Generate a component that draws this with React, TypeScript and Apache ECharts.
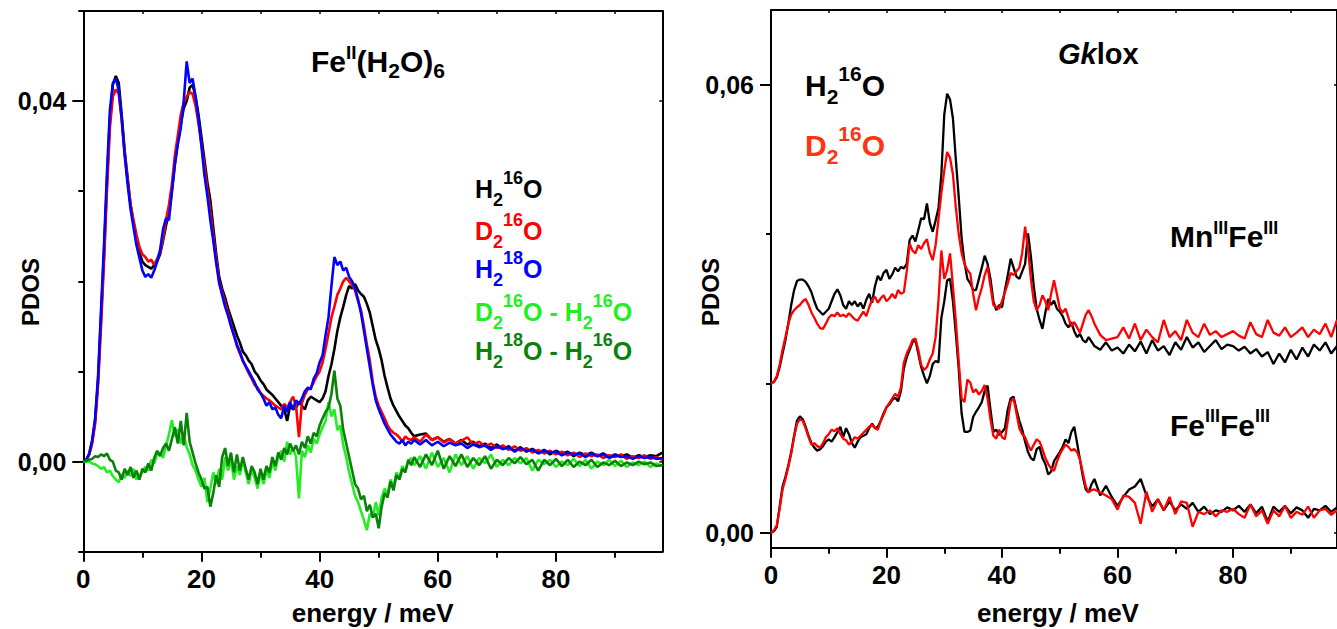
import React, { useEffect, useRef } from 'react';
import * as echarts from 'echarts';

// energy grid (meV), shared by every curve
const energy = [
  0, 0.5, 1, 1.5, 2, 2.5, 3, 3.5, 4, 4.5,
  5, 5.5, 6, 6.5, 7, 7.5, 8, 8.5, 9, 9.5,
  10, 10.5, 11, 11.5, 12, 12.5, 13, 13.5, 14, 14.5,
  15, 15.5, 16, 16.5, 17, 17.5, 18, 18.5, 19, 19.5,
  20, 20.5, 21, 21.5, 22, 22.5, 23, 23.5, 24, 24.5,
  25, 25.5, 26, 26.5, 27, 27.5, 28, 28.5, 29, 29.5,
  30, 30.5, 31, 31.5, 32, 32.5, 33, 33.5, 34, 34.5,
  35, 35.5, 36, 36.5, 37, 37.5, 38, 38.5, 39, 39.5,
  40, 40.5, 41, 41.5, 42, 42.5, 43, 43.5, 44, 44.5,
  45, 45.5, 46, 46.5, 47, 47.5, 48, 48.5, 49, 49.5,
  50, 50.5, 51, 51.5, 52, 52.5, 53, 53.5, 54, 54.5,
  55, 55.5, 56,
  57, 58, 59, 60, 61, 62, 63, 64, 65, 66,
  67, 68, 69, 70, 71, 72, 73, 74, 75, 76,
  77, 78, 79, 80, 81, 82, 83, 84, 85, 86,
  87, 88, 89, 90, 91, 92, 93, 94, 95, 96,
  97, 98,
];

// ---- Left panel: Fe(II)(H2O)6 ----
const feH2o16 = [
  0, .0002, .0008, .0022, .0045, .0090, .0160, .0230, .0310, .0380,
  .0418, .0428, .0420, .0385, .0345, .0315, .0285, .0265, .0248, .0232,
  .0222, .0218, .0216, .0214, .0218, .0222, .0230, .0245, .0262, .0275,
  .0300, .0330, .0355, .0375, .0392, .0400, .0415, .0418, .0405, .0385,
  .0360, .0335, .0310, .0290, .0260, .0230, .0205, .0192, .0182, .0170,
  .0160, .0150, .0140, .0132, .0122, .0118, .0112, .0108, .0100, .0096,
  .0090, .0086, .0080, .0077, .0074, .0070, .0066, .0062, .0058, .0045,
  .0062, .0058, .0060, .0066, .0062, .0058, .0068, .0072, .0070, .0068,
  .0066, .0070, .0078, .0095, .0108, .0125, .0145, .0160, .0172, .0185,
  .0195, .0192, .0197, .0190, .0186, .0183, .0175, .0165, .0150, .0135,
  .0125, .0112, .0095, .0082, .0070, .0062, .0056, .0050, .0045, .0040,
  .0037, .0032, .0028,
  .0030, .0031, .0024, .0027, .0022, .0025, .0020, .0024, .0019, .0022,
  .0017, .0020, .0015, .0019, .0014, .0017, .0012, .0016, .0011, .0014,
  .0010, .0013, .0008, .0012, .0009, .0011, .0006, .0010, .0007, .0010,
  .0006, .0009, .0005, .0008, .0006, .0008, .0004, .0007, .0005, .0007,
  .0006, .0010,
];
const feD2o16 = [
  0, .0002, .0008, .0020, .0042, .0085, .0150, .0220, .0300, .0370,
  .0405, .0413, .0408, .0380, .0342, .0312, .0285, .0268, .0252, .0238,
  .0230, .0227, .0222, .0224, .0218, .0225, .0232, .0248, .0268, .0285,
  .0308, .0340, .0362, .0385, .0398, .0405, .0410, .0408, .0395, .0375,
  .0352, .0328, .0302, .0278, .0250, .0225, .0200, .0188, .0176, .0165,
  .0152, .0140, .0128, .0120, .0112, .0105, .0098, .0092, .0085, .0082,
  .0076, .0073, .0070, .0068, .0065, .0062, .0060, .0058, .0064, .0060,
  .0066, .0072, .0062, .0027, .0065, .0074, .0080, .0082, .0088, .0095,
  .0100, .0110, .0125, .0142, .0160, .0172, .0185, .0192, .0200, .0204,
  .0200, .0196, .0190, .0178, .0168, .0150, .0130, .0112, .0088, .0072,
  .0062, .0055, .0048, .0040, .0035, .0032, .0030, .0027, .0022, .0028,
  .0025, .0024, .0027,
  .0022, .0030, .0024, .0027, .0021, .0025, .0020, .0023, .0027, .0019,
  .0022, .0017, .0020, .0015, .0018, .0013, .0017, .0012, .0015, .0010,
  .0013, .0009, .0012, .0008, .0011, .0007, .0010, .0005, .0009, .0006,
  .0008, .0004, .0007, .0005, .0008, .0003, .0006, .0004, .0007, .0003,
  .0005, .0002,
];
const feH2o18 = [
  0, .0002, .0009, .0024, .0048, .0095, .0168, .0240, .0320, .0390,
  .0420, .0425, .0412, .0380, .0340, .0308, .0280, .0260, .0240, .0226,
  .0212, .0205, .0208, .0204, .0212, .0222, .0235, .0258, .0270, .0268,
  .0300, .0330, .0352, .0370, .0400, .0444, .0420, .0425, .0405, .0380,
  .0350, .0318, .0295, .0268, .0245, .0220, .0198, .0185, .0172, .0162,
  .0150, .0140, .0130, .0122, .0112, .0106, .0100, .0094, .0088, .0080,
  .0076, .0070, .0062, .0066, .0058, .0060, .0052, .0048, .0062, .0055,
  .0066, .0058, .0068, .0064, .0070, .0078, .0082, .0080, .0092, .0098,
  .0110, .0118, .0140, .0160, .0195, .0227, .0218, .0222, .0212, .0215,
  .0205, .0200, .0192, .0180, .0165, .0145, .0125, .0105, .0085, .0068,
  .0058, .0050, .0042, .0036, .0030, .0026, .0022, .0020, .0024, .0018,
  .0022, .0020, .0024,
  .0019, .0024, .0018, .0022, .0017, .0021, .0018, .0020, .0015, .0019,
  .0016, .0018, .0013, .0017, .0014, .0016, .0011, .0015, .0012, .0013,
  .0009, .0012, .0010, .0011, .0007, .0010, .0008, .0009, .0005, .0009,
  .0006, .0008, .0004, .0007, .0005, .0006, .0003, .0006, .0004, .0005,
  .0003, .0004,
];
const diffD2o = [
  0, 0, 0, -.0002, -.0003, -.0005, -.0008, -.0006, -.0012, -.0010,
  -.0016, -.0020, -.0023, -.0014, -.0018, -.0010, -.0016, -.0008, -.0020, -.0015,
  -.0012, -.0006, -.0010, .0002, -.0002, .0008, .0010, .0004, .0018, .0030,
  .0046, .0028, .0036, .0020, .0030, .0016, .0008, -.0004, -.0010, -.0020,
  -.0028, -.0018, -.0045, -.0030, -.0012, -.0025, -.0008, -.0020, .0005, -.0010,
  .0002, -.0020, -.0005, -.0015, .0002, -.0012, -.0025, -.0008, -.0018, -.0030,
  -.0012, -.0025, -.0010, -.0018, .0000, -.0010, .0005, .0012, .0000, .0022,
  .0008, .0015, .0005, -.0041, .0012, .0005, .0018, .0010, .0025, .0020,
  .0030, .0038, .0045, .0066, .0050, .0058, .0035, .0040, .0018, .0005,
  -.0012, -.0025, -.0038, -.0045, -.0055, -.0065, -.0076, -.0058, -.0062, -.0045,
  -.0060, -.0040, -.0030, -.0036, -.0020, -.0028, -.0012, -.0018, -.0005, -.0010,
  .0000, .0004, -.0004,
  .0006, -.0008, .0010, -.0006, .0004, -.0012, .0008, -.0004, .0006, -.0008,
  .0004, -.0002, .0008, -.0006, .0002, -.0004, .0004, -.0002, .0004, -.0010,
  .0002, -.0003, .0002, -.0006, .0000, -.0004, .0003, -.0005, .0002, -.0008,
  .0000, -.0004, .0002, -.0005, .0001, -.0006, -.0001, -.0004, .0000, -.0006,
  -.0002, -.0005,
];
const diffH2o18 = [
  0, .0001, .0002, .0003, .0006, .0005, .0008, .0006, .0009, .0002,
  .0000, -.0010, -.0012, -.0020, -.0008, -.0015, -.0006, -.0018, -.0010, -.0020,
  -.0008, -.0012, -.0002, -.0010, .0004, .0012, .0006, .0015, .0020, .0012,
  .0025, .0038, .0020, .0045, .0018, .0054, .0022, .0010, -.0002, -.0012,
  -.0020, -.0030, -.0028, -.0050, -.0035, -.0015, -.0028, .0005, .0015, -.0005,
  .0010, -.0012, .0008, -.0010, .0005, -.0008, -.0020, -.0005, -.0012, -.0025,
  -.0008, -.0020, -.0005, -.0012, .0005, -.0005, .0010, .0002, .0015, .0008,
  .0020, .0012, .0018, .0008, .0022, .0015, .0028, .0020, .0032, .0028,
  .0040, .0048, .0055, .0060, .0075, .0101, .0070, .0062, .0035, .0020,
  .0005, -.0010, -.0025, -.0030, -.0042, -.0038, -.0055, -.0048, -.0062, -.0058,
  -.0074, -.0050, -.0035, -.0040, -.0022, -.0032, -.0015, -.0020, -.0008, -.0012,
  .0002, -.0004, .0005,
  -.0006, .0008, -.0004, .0012, -.0008, .0006, -.0005, .0008, -.0006, .0004,
  -.0004, .0006, -.0008, .0002, -.0004, .0004, -.0002, .0005, -.0003, .0002,
  -.0010, .0002, -.0004, .0003, -.0005, .0002, -.0006, .0000, -.0004, .0002,
  -.0006, -.0001, -.0004, .0001, -.0005, -.0001, -.0004, .0000, -.0003, -.0001,
  -.0005, -.0004,
];

// ---- Right panel: Gklox ----
const mnH2o16 = [
  .0200, .0202, .0208, .0222, .0240, .0258, .0280, .0305, .0325, .0337,
  .0339, .0339, .0336, .0330, .0322, .0310, .0300, .0296, .0292, .0296,
  .0300, .0310, .0320, .0326, .0318, .0305, .0300, .0310, .0305, .0310,
  .0303, .0308, .0300, .0312, .0320, .0308, .0330, .0344, .0338, .0348,
  .0352, .0340, .0346, .0355, .0350, .0356, .0354, .0360, .0392, .0398,
  .0390, .0405, .0421, .0420, .0441, .0415, .0403, .0418, .0435, .0480,
  .0560, .0588, .0580, .0555, .0500, .0450, .0395, .0362, .0340, .0334,
  .0325, .0325, .0340, .0355, .0371, .0360, .0340, .0310, .0298, .0305,
  .0302, .0325, .0345, .0367, .0355, .0343, .0340, .0350, .0360, .0401,
  .0370, .0330, .0300, .0285, .0273, .0295, .0313, .0305, .0311, .0300,
  .0296, .0290, .0280, .0275, .0282, .0270, .0262, .0266, .0258, .0255,
  .0262, .0256, .0250,
  .0245, .0255, .0244, .0248, .0240, .0252, .0243, .0256, .0240, .0258,
  .0244, .0250, .0238, .0255, .0245, .0262, .0248, .0255, .0242, .0250,
  .0258, .0246, .0252, .0250, .0244, .0249, .0240, .0246, .0236, .0242,
  .0226, .0240, .0228, .0245, .0232, .0248, .0236, .0252, .0244, .0255,
  .0240, .0250,
];
const mnD2o16 = [
  .0200, .0202, .0210, .0225, .0245, .0262, .0280, .0292, .0298, .0302,
  .0305, .0310, .0313, .0305, .0295, .0288, .0280, .0274, .0273, .0280,
  .0288, .0292, .0290, .0295, .0290, .0292, .0289, .0294, .0290, .0286,
  .0284, .0290, .0296, .0290, .0302, .0312, .0316, .0308, .0314, .0318,
  .0310, .0314, .0320, .0314, .0325, .0320, .0322, .0350, .0387, .0378,
  .0374, .0385, .0380, .0388, .0393, .0375, .0365, .0385, .0420, .0455,
  .0485, .0510, .0502, .0480, .0436, .0400, .0375, .0360, .0352, .0347,
  .0320, .0298, .0315, .0328, .0345, .0356, .0330, .0305, .0302, .0300,
  .0310, .0322, .0334, .0348, .0345, .0350, .0355, .0375, .0410, .0380,
  .0340, .0310, .0298, .0305, .0318, .0310, .0298, .0320, .0338, .0320,
  .0300, .0295, .0300, .0288, .0276, .0282, .0275, .0268, .0280, .0292,
  .0298, .0290, .0280,
  .0265, .0258, .0260, .0262, .0275, .0260, .0280, .0258, .0272, .0262,
  .0255, .0285, .0262, .0270, .0258, .0285, .0268, .0262, .0280, .0265,
  .0270, .0262, .0266, .0270, .0264, .0260, .0282, .0266, .0262, .0285,
  .0268, .0264, .0275, .0262, .0268, .0275, .0262, .0272, .0266, .0280,
  .0262, .0285,
];
const fefeH2o16 = [
  .0000, .0002, .0008, .0035, .0062, .0075, .0090, .0108, .0130, .0150,
  .0156, .0152, .0142, .0130, .0120, .0114, .0110, .0112, .0116, .0122,
  .0125, .0122, .0128, .0135, .0142, .0128, .0140, .0132, .0120, .0114,
  .0122, .0128, .0130, .0132, .0140, .0146, .0140, .0142, .0150, .0160,
  .0168, .0172, .0178, .0181, .0176, .0190, .0220, .0235, .0245, .0255,
  .0258, .0240, .0222, .0210, .0200, .0210, .0226, .0230, .0228, .0288,
  .0310, .0338, .0340, .0310, .0267, .0220, .0160, .0135, .0135, .0137,
  .0155, .0162, .0168, .0175, .0190, .0197, .0165, .0135, .0138, .0131,
  .0135, .0140, .0165, .0180, .0182, .0165, .0150, .0138, .0122, .0108,
  .0100, .0097, .0112, .0115, .0100, .0092, .0078, .0082, .0096, .0102,
  .0108, .0115, .0125, .0120, .0135, .0142, .0120, .0098, .0075, .0058,
  .0054, .0065, .0072,
  .0050, .0063, .0048, .0036, .0048, .0058, .0062, .0072, .0050, .0035,
  .0045, .0030, .0042, .0030, .0038, .0032, .0040, .0028, .0035, .0025,
  .0030, .0028, .0034, .0030, .0036, .0028, .0038, .0026, .0035, .0015,
  .0035, .0028, .0036, .0026, .0034, .0030, .0020, .0032, .0030, .0036,
  .0028, .0034,
];
const fefeD2o16 = [
  .0000, .0003, .0010, .0032, .0058, .0072, .0088, .0106, .0128, .0146,
  .0152, .0150, .0140, .0128, .0118, .0120, .0116, .0114, .0120, .0128,
  .0132, .0138, .0136, .0140, .0132, .0126, .0124, .0118, .0122, .0128,
  .0126, .0130, .0134, .0138, .0142, .0145, .0140, .0138, .0150, .0158,
  .0168, .0174, .0180, .0186, .0182, .0195, .0228, .0240, .0248, .0258,
  .0260, .0245, .0225, .0218, .0222, .0232, .0240, .0262, .0311, .0378,
  .0340, .0352, .0374, .0330, .0284, .0230, .0180, .0175, .0205, .0201,
  .0188, .0192, .0185, .0190, .0198, .0180, .0152, .0130, .0126, .0138,
  .0128, .0125, .0150, .0176, .0180, .0160, .0140, .0132, .0128, .0118,
  .0110, .0118, .0125, .0122, .0112, .0100, .0092, .0086, .0083, .0095,
  .0105, .0112, .0118, .0115, .0110, .0112, .0108, .0098, .0080, .0062,
  .0054, .0057, .0058,
  .0054, .0050, .0045, .0031, .0050, .0048, .0040, .0012, .0055, .0028,
  .0045, .0030, .0048, .0025, .0042, .0040, .0008, .0028, .0025, .0030,
  .0022, .0030, .0028, .0032, .0025, .0020, .0038, .0022, .0030, .0012,
  .0030, .0022, .0036, .0020, .0028, .0024, .0035, .0020, .0030, .0032,
  .0024, .0030,
];

// axis ticks / labels
const xMajor = [0, 20, 40, 60, 80];
const xMinor = [10, 30, 50, 70, 90];
const xTop = [10, 20, 30, 40, 50, 60, 70, 80, 90];
const leftYLabels = [0, 0.04];
const leftYMinor = [-0.01, 0.01, 0.02, 0.03, 0.05];
const rightYLabels = [0, 0.06];
const rightYMinor = [0.02, 0.04];

const FONT = '"Liberation Sans", Arial, Helvetica, sans-serif';
const BLACK = '#000000';

const pairs = (ys: number[]) => ys.map((y, i) => [energy[i], y]);
const fmtY = (v: number) => v.toFixed(2).replace('.', ',');

const axisLineStyle = { color: BLACK, width: 2 };

function xMain(grid: number) {
  return {
    type: 'value', gridIndex: grid, min: 0, max: 98, position: 'bottom',
    axisLine: { show: true, onZero: false, lineStyle: axisLineStyle },
    axisTick: { show: true, customValues: xMajor, length: 10, lineStyle: { color: BLACK, width: 2 } },
    axisLabel: { show: true, customValues: xMajor, fontSize: 26, fontWeight: 'bold', fontFamily: FONT, color: BLACK, margin: 14 },
    splitLine: { show: false },
  };
}
function xTopAxis(grid: number) {
  return {
    type: 'value', gridIndex: grid, min: 0, max: 98, position: 'top',
    axisLine: { show: true, onZero: false, lineStyle: axisLineStyle },
    axisTick: { show: true, inside: true, customValues: xTop, length: 3, lineStyle: { color: BLACK, width: 1.5 } },
    axisLabel: { show: false },
    splitLine: { show: false },
  };
}
function xMinorAxis(grid: number) {
  return {
    type: 'value', gridIndex: grid, min: 0, max: 98, position: 'bottom',
    axisLine: { show: false, onZero: false },
    axisTick: { show: true, customValues: xMinor, length: 6, lineStyle: { color: BLACK, width: 2 } },
    axisLabel: { show: false },
    splitLine: { show: false },
  };
}
function yMain(grid: number, min: number, max: number, labels: number[]) {
  return {
    type: 'value', gridIndex: grid, min, max, position: 'left',
    axisLine: { show: true, onZero: false, lineStyle: axisLineStyle },
    axisTick: { show: true, customValues: labels, length: 11, lineStyle: { color: BLACK, width: 2 } },
    axisLabel: { show: true, customValues: labels, formatter: fmtY, fontSize: 25, fontWeight: 'bold', fontFamily: FONT, color: BLACK, margin: 17 },
    splitLine: { show: false },
  };
}
function yRight(grid: number, min: number, max: number, ticks: number[]) {
  return {
    type: 'value', gridIndex: grid, min, max, position: 'right',
    axisLine: { show: true, onZero: false, lineStyle: axisLineStyle },
    axisTick: { show: true, inside: true, customValues: ticks, length: 3, lineStyle: { color: BLACK, width: 1.5 } },
    axisLabel: { show: false },
    splitLine: { show: false },
  };
}
function yMinorAxis(grid: number, min: number, max: number, ticks: number[]) {
  return {
    type: 'value', gridIndex: grid, min, max, position: 'left',
    axisLine: { show: false, onZero: false },
    axisTick: { show: true, customValues: ticks, length: 5, lineStyle: { color: BLACK, width: 2 } },
    axisLabel: { show: false },
    splitLine: { show: false },
  };
}

function line(name: string, data: number[], color: string, xi: number, yi: number, width = 2.6) {
  return {
    type: 'line', name, data: pairs(data), xAxisIndex: xi, yAxisIndex: yi,
    showSymbol: false, symbol: 'none', lineStyle: { color, width }, itemStyle: { color },
    silent: true,
  };
}

function rich(main: number, sub: number, sup: number, H: number, hs: number, hp: number, fill: string) {
  const base = { fontWeight: 'bold', fontFamily: FONT, fill, color: fill };
  return {
    m: { ...base, fontSize: main, lineHeight: H },
    i: { ...base, fontSize: main, lineHeight: H, fontStyle: 'italic' },
    b: { ...base, fontSize: sub, lineHeight: hs, verticalAlign: 'bottom' },
    p: { ...base, fontSize: sup, lineHeight: hp, verticalAlign: 'top' },
  };
}

function label(text: string, x: number, centerY: number, H: number, r: any) {
  return {
    type: 'text', x, y: centerY - H / 2, silent: true,
    style: { text, rich: r, verticalAlign: 'top', align: 'left', fontFamily: FONT, fontWeight: 'bold' },
  };
}

const LGREEN = '#22ee22';
const DGREEN = '#0a820a';
const R_ORANGE = '#ff3311';

export default function App() {
  const ref = useRef<HTMLDivElement>(null);
  useEffect(() => {
    if (!ref.current) return;
    const chart = echarts.init(ref.current, undefined, { renderer: 'svg' });
    const option: any = {
      animation: false,
      backgroundColor: '#ffffff',
      grid: [
        { left: 83.3, top: 11, width: 579, height: 540.7 },
        { left: 771, top: 10, width: 575, height: 537.7 },
        { left: 83.3, top: 11, width: 579, height: 540.7 },
        { left: 771, top: 10, width: 575, height: 537.7 },
      ],
      xAxis: [
        xMain(0), xTopAxis(0), xMain(1), xTopAxis(1), xMinorAxis(2), xMinorAxis(3),
      ],
      yAxis: [
        yMain(0, -0.01, 0.05, leftYLabels), yRight(0, -0.01, 0.05, leftYLabels),
        yMain(1, -0.002, 0.07, rightYLabels), yRight(1, -0.002, 0.07, rightYLabels),
        yMinorAxis(2, -0.01, 0.05, leftYMinor), yMinorAxis(3, -0.002, 0.07, rightYMinor),
      ],
      series: [
        line('H2 16O', feH2o16, BLACK, 0, 0),
        line('D2 16O', feD2o16, '#ff0000', 0, 0),
        line('H2 18O', feH2o18, '#0000ff', 0, 0),
        line('D2 16O - H2 16O', diffD2o, LGREEN, 0, 0),
        line('H2 18O - H2 16O', diffH2o18, DGREEN, 0, 0),
        line('MnFe H2 16O', mnH2o16, BLACK, 2, 2, 2.3),
        line('MnFe D2 16O', mnD2o16, '#ff0000', 2, 2, 2.3),
        line('FeFe H2 16O', fefeH2o16, BLACK, 2, 2, 2.3),
        line('FeFe D2 16O', fefeD2o16, '#ff0000', 2, 2, 2.3),
      ],
      graphic: [
        label('{m|Fe}{p|II}{m|(H}{b|2}{m|O)}{b|6}', 311, 61.7, 38, rich(30, 21, 19, 38, 15, 34, BLACK)),
        label('{m|H}{b|2}{p|16}{m|O}', 475, 189, 40, rich(25, 18, 18, 40, 12, 26, BLACK)),
        label('{m|D}{b|2}{p|16}{m|O}', 475, 231, 40, rich(25, 18, 18, 40, 12, 26, '#ff0000')),
        label('{m|H}{b|2}{p|18}{m|O}', 475, 269, 40, rich(25, 18, 18, 40, 12, 26, '#0000ff')),
        label('{m|D}{b|2}{p|16}{m|O - H}{b|2}{p|16}{m|O}', 475, 312, 40, rich(25, 18, 18, 40, 12, 26, LGREEN)),
        label('{m|H}{b|2}{p|18}{m|O - H}{b|2}{p|16}{m|O}', 475, 351, 40, rich(25, 18, 18, 40, 12, 26, DGREEN)),
        label('{i|Gk}{m|lox}', 1058, 54, 36, rich(29, 20, 18, 36, 14, 30, BLACK)),
        label('{m|H}{b|2}{p|16}{m|O}', 805, 85, 44, rich(30, 21, 21, 44, 21, 32, BLACK)),
        label('{m|D}{b|2}{p|16}{m|O}', 805, 145, 44, rich(30, 21, 21, 44, 21, 32, R_ORANGE)),
        label('{m|Mn}{p|III}{m|Fe}{p|III}', 1170, 236.7, 36, rich(30, 18, 18, 36, 14, 26, BLACK)),
        label('{m|Fe}{p|III}{m|Fe}{p|III}', 1170, 425, 36, rich(30, 18, 18, 36, 14, 26, BLACK)),
        {
          type: 'text', x: 30, y: 292, rotation: Math.PI / 2, silent: true,
          style: { text: 'PDOS', fontSize: 24, fontWeight: 'bold', fontFamily: FONT, fill: BLACK, align: 'center', verticalAlign: 'middle' },
        },
        {
          type: 'text', x: 710, y: 292, rotation: Math.PI / 2, silent: true,
          style: { text: 'PDOS', fontSize: 24, fontWeight: 'bold', fontFamily: FONT, fill: BLACK, align: 'center', verticalAlign: 'middle' },
        },
        {
          type: 'text', x: 372.7, y: 613, silent: true,
          style: { text: 'energy / meV', fontSize: 26, fontWeight: 'bold', fontFamily: FONT, fill: BLACK, align: 'center', verticalAlign: 'middle' },
        },
        {
          type: 'text', x: 1058, y: 613, silent: true,
          style: { text: 'energy / meV', fontSize: 26, fontWeight: 'bold', fontFamily: FONT, fill: BLACK, align: 'center', verticalAlign: 'middle' },
        },
      ],
    };
    chart.setOption(option);
    return () => chart.dispose();
  }, []);
  return (
    <div
      ref={ref}
      style={{ position: 'absolute', left: 0, top: 0, width: 1337, height: 629, background: '#fff', overflow: 'hidden' }}
    />
  );
}
